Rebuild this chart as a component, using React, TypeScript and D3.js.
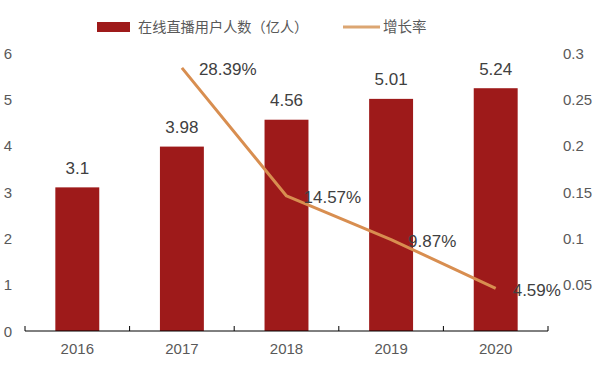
import React from "react";
import * as d3 from "d3";

const years = ["2016", "2017", "2018", "2019", "2020"];
const users = [3.1, 3.98, 4.56, 5.01, 5.24];
const growthYears = ["2017", "2018", "2019", "2020"];
const growth = [0.2839, 0.1457, 0.0987, 0.0459];
const leftTicks = [0, 1, 2, 3, 4, 5, 6];
const rightTicks = [0.05, 0.1, 0.15, 0.2, 0.25, 0.3];
const barLegend = "在线直播用户人数（亿人）";
const lineLegend = "增长率";

const W = 598;
const H = 369;
const BAR = "#9E1A1A";
const LINE = "#D88E50";
const LATIN = "'Liberation Sans', Arial, sans-serif";
const CJK = "'Noto Sans CJK SC', sans-serif";

export default function App() {
  const x = d3.scaleBand<string>().domain(years).range([25, 548]).paddingInner(0.58).paddingOuter(0.29);
  const step = x.step();
  const yL = d3.scaleLinear().domain([0, 6]).range([331, 53]);
  const yR = d3.scaleLinear().domain([0, 0.3]).range([331, 53]);
  const cx = (c: string) => (x(c) as number) + x.bandwidth() / 2;
  const pts: [number, number][] = growthYears.map((c, i) => [cx(c), yR(growth[i])]);
  const line = d3.line()(pts) as string;
  const fmtR = d3.format("");

  return (
    <svg width={W} height={H} style={{ position: "absolute", left: 0, top: 0, background: "#fff" }}>
      <rect x={0} y={0} width={W} height={H} fill="#fff" />
      {/* legend */}
      <rect x={97} y={22} width={33} height={10} fill={BAR} />
      <text x={138} y={32} fontFamily={CJK} fontSize={14.2} fill="#595959">{barLegend}</text>
      <line x1={343} x2={380} y1={27} y2={27} stroke="#DCA672" strokeWidth={3} />
      <text x={383} y={32} fontFamily={CJK} fontSize={14.5} fill="#595959">{lineLegend}</text>

      {/* left axis labels */}
      {leftTicks.map((t) => (
        <text key={"l" + t} x={12} y={yL(t) + 5.5} textAnchor="end" fontFamily={LATIN} fontSize={15} fill="#595959">{t}</text>
      ))}
      {/* right axis labels */}
      {rightTicks.map((t) => (
        <text key={"r" + t} x={563} y={yR(t) + 5.5} fontFamily={LATIN} fontSize={15} fill="#595959">{fmtR(t)}</text>
      ))}

      {/* bars */}
      {years.map((c, i) => (
        <rect key={c} x={x(c)} y={yL(users[i])} width={x.bandwidth()} height={yL(0) - yL(users[i])} fill={BAR} />
      ))}

      {/* x axis */}
      <line x1={25} x2={548} y1={331} y2={331} stroke="#000" strokeWidth={1} />
      {d3.range(years.length + 1).map((i) => (
        <line key={"t" + i} x1={25 + step * i} x2={25 + step * i} y1={326} y2={331} stroke="#000" strokeWidth={1} />
      ))}
      {years.map((c) => (
        <text key={"x" + c} x={cx(c)} y={354} textAnchor="middle" fontFamily={LATIN} fontSize={15} fill="#595959">{c}</text>
      ))}

      {/* bar labels */}
      {years.map((c, i) => (
        <text key={"bl" + c} x={cx(c)} y={yL(users[i]) - 13.5} textAnchor="middle" fontFamily={LATIN} fontSize={17} fill="#404040">{users[i]}</text>
      ))}

      {/* line */}
      <path d={line} fill="none" stroke={LINE} strokeWidth={3} strokeLinejoin="round" />
      {pts.map(([px, py], i) => (
        <text key={"pl" + i} x={px + 17} y={py + 7.5} fontFamily={LATIN} fontSize={17} fill="#404040">{(growth[i] * 100).toFixed(2) + "%"}</text>
      ))}
    </svg>
  );
}
